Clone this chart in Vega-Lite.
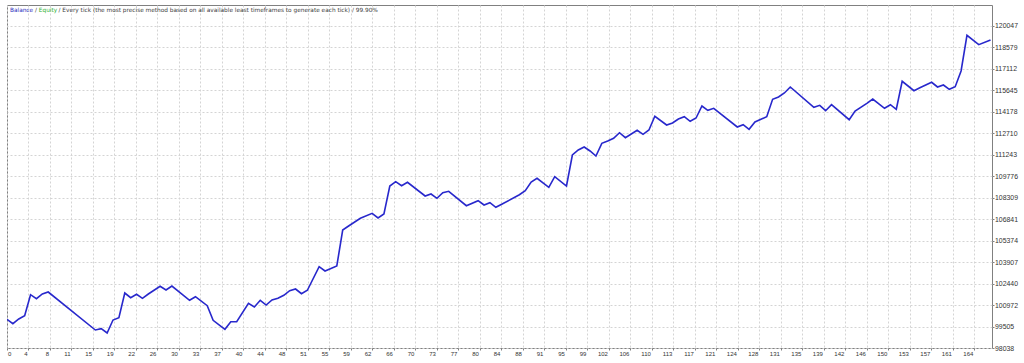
{
  "$schema": "https://vega.github.io/schema/vega-lite/v6.json",
  "width": 985,
  "height": 343,
  "autosize": "none",
  "padding": {"left": 7, "top": 5, "right": 32, "bottom": 15},
  "background": "#ffffff",
  "config": {
    "view": {"stroke": "#808080", "strokeWidth": 1},
    "font": "Liberation Sans"
  },
  "datasets": {
    "balance": [
      {"trade": 0, "balance": 100000}, {"trade": 1, "balance": 99698}, {"trade": 2, "balance": 100020},
      {"trade": 3, "balance": 100245}, {"trade": 4, "balance": 101680}, {"trade": 5, "balance": 101407},
      {"trade": 6, "balance": 101728}, {"trade": 7, "balance": 101864}, {"trade": 15, "balance": 99268},
      {"trade": 16, "balance": 99357}, {"trade": 17, "balance": 99063}, {"trade": 18, "balance": 99951},
      {"trade": 19, "balance": 100108}, {"trade": 20, "balance": 101796}, {"trade": 21, "balance": 101475},
      {"trade": 22, "balance": 101707}, {"trade": 23, "balance": 101434}, {"trade": 24, "balance": 101728},
      {"trade": 26, "balance": 102254}, {"trade": 27, "balance": 102001}, {"trade": 28, "balance": 102274},
      {"trade": 31, "balance": 101297}, {"trade": 32, "balance": 101543}, {"trade": 34, "balance": 100928},
      {"trade": 35, "balance": 99931}, {"trade": 37, "balance": 99316}, {"trade": 38, "balance": 99835},
      {"trade": 39, "balance": 99835}, {"trade": 41, "balance": 101092}, {"trade": 42, "balance": 100840},
      {"trade": 43, "balance": 101297}, {"trade": 44, "balance": 100976}, {"trade": 45, "balance": 101318},
      {"trade": 46, "balance": 101434}, {"trade": 47, "balance": 101639}, {"trade": 48, "balance": 101953},
      {"trade": 49, "balance": 102069}, {"trade": 50, "balance": 101748}, {"trade": 51, "balance": 101981},
      {"trade": 53, "balance": 103593}, {"trade": 54, "balance": 103299}, {"trade": 56, "balance": 103641},
      {"trade": 57, "balance": 106101}, {"trade": 58, "balance": 106374}, {"trade": 60, "balance": 106900},
      {"trade": 62, "balance": 107242}, {"trade": 63, "balance": 106921}, {"trade": 64, "balance": 107194},
      {"trade": 65, "balance": 109107}, {"trade": 66, "balance": 109401}, {"trade": 67, "balance": 109128},
      {"trade": 68, "balance": 109360}, {"trade": 71, "balance": 108424}, {"trade": 72, "balance": 108561},
      {"trade": 73, "balance": 108267}, {"trade": 74, "balance": 108650}, {"trade": 75, "balance": 108745},
      {"trade": 78, "balance": 107761}, {"trade": 80, "balance": 108103}, {"trade": 81, "balance": 107809},
      {"trade": 82, "balance": 107966}, {"trade": 83, "balance": 107652}, {"trade": 84, "balance": 107857},
      {"trade": 87, "balance": 108513}, {"trade": 88, "balance": 108786}, {"trade": 89, "balance": 109381},
      {"trade": 90, "balance": 109634}, {"trade": 92, "balance": 109019}, {"trade": 93, "balance": 109743},
      {"trade": 95, "balance": 109107}, {"trade": 96, "balance": 111226}, {"trade": 97, "balance": 111567},
      {"trade": 98, "balance": 111772}, {"trade": 99, "balance": 111499}, {"trade": 100, "balance": 111157},
      {"trade": 101, "balance": 112025}, {"trade": 102, "balance": 112182}, {"trade": 103, "balance": 112367},
      {"trade": 104, "balance": 112749}, {"trade": 105, "balance": 112408}, {"trade": 107, "balance": 112913},
      {"trade": 108, "balance": 112640}, {"trade": 109, "balance": 112934}, {"trade": 110, "balance": 113870},
      {"trade": 112, "balance": 113276}, {"trade": 113, "balance": 113412}, {"trade": 114, "balance": 113686},
      {"trade": 115, "balance": 113843}, {"trade": 116, "balance": 113528}, {"trade": 117, "balance": 113754},
      {"trade": 118, "balance": 114574}, {"trade": 119, "balance": 114280}, {"trade": 120, "balance": 114417},
      {"trade": 124, "balance": 113139}, {"trade": 125, "balance": 113296}, {"trade": 126, "balance": 112982},
      {"trade": 127, "balance": 113481}, {"trade": 129, "balance": 113843}, {"trade": 130, "balance": 115032},
      {"trade": 131, "balance": 115189}, {"trade": 132, "balance": 115462}, {"trade": 133, "balance": 115872},
      {"trade": 137, "balance": 114485}, {"trade": 138, "balance": 114622}, {"trade": 139, "balance": 114253},
      {"trade": 140, "balance": 114663}, {"trade": 143, "balance": 113638}, {"trade": 144, "balance": 114232},
      {"trade": 146, "balance": 114758}, {"trade": 147, "balance": 115052}, {"trade": 149, "balance": 114417},
      {"trade": 150, "balance": 114663}, {"trade": 151, "balance": 114349}, {"trade": 152, "balance": 116262},
      {"trade": 154, "balance": 115619}, {"trade": 155, "balance": 115824}, {"trade": 157, "balance": 116193},
      {"trade": 158, "balance": 115872}, {"trade": 159, "balance": 116009}, {"trade": 160, "balance": 115715},
      {"trade": 161, "balance": 115893}, {"trade": 162, "balance": 116965}, {"trade": 163, "balance": 119405},
      {"trade": 165, "balance": 118763}, {"trade": 167, "balance": 119084}
    ]
  },
  "layer": [
    {
      "data": {"name": "balance"},
      "mark": {"type": "line", "color": "#2828cc", "strokeWidth": 1.6, "strokeJoin": "miter", "clip": true},
      "encoding": {
        "x": {
          "field": "trade", "type": "quantitative",
          "scale": {"domain": [0, 167.25], "nice": false, "zero": false},
          "axis": {
            "title": null,
            "orient": "bottom",
            "tickCount": 200,
            "values": [0, 3.65, 7.3, 10.95, 14.6, 18.25, 21.9, 25.55, 29.2, 32.85, 36.5, 40.15, 43.8, 47.45, 51.1, 54.75, 58.4, 62.05, 65.7, 69.35, 73, 76.65, 80.3, 83.95, 87.6, 91.25, 94.9, 98.55, 102.2, 105.85, 109.5, 113.15, 116.8, 120.45, 124.1, 127.75, 131.4, 135.05, 138.7, 142.35, 146, 149.65, 153.3, 156.95, 160.6, 164.25],
            "labelExpr": "['0','4','8','11','15','19','22','26','30','33','37','40','44','48','51','55','59','62','66','70','73','77','80','84','88','91','95','99','102','106','110','113','117','121','124','128','131','135','139','142','146','150','153','157','161','164'][round(datum.value/3.65)]",
            "labelAlign": {"condition": {"test": "datum.value == 0", "value": "left"}, "value": "right"},
            "labelOffset": {"condition": {"test": "datum.value == 0", "value": 0.5}, "value": -1.5},
            "labelBaseline": "top",
            "labelFontSize": 6,
            "labelColor": "#333333",
            "labelPadding": 0.5,
            "labelFlush": false,
            "labelOverlap": false,
            "domain": false,
            "ticks": true,
            "tickSize": 2,
            "tickColor": "#808080",
            "grid": true,
            "gridColor": "#d4d4d4",
            "gridDash": [2, 2],
            "gridWidth": 1
          }
        },
        "y": {
          "field": "balance", "type": "quantitative",
          "scale": {"domain": [98038, 121475], "nice": false, "zero": false},
          "axis": {
            "title": null,
            "orient": "right",
            "tickCount": 200,
            "values": [98038, 99505, 100972, 102440, 103907, 105374, 106841, 108309, 109776, 111243, 112710, 114178, 115645, 117112, 118579, 120047],
            "format": "d",
            "labelAlign": "left",
            "labelBaseline": "middle",
            "labelFontSize": 6.9,
            "labelColor": "#333333",
            "labelPadding": 0.5,
            "labelFlush": false,
            "labelOverlap": false,
            "domain": false,
            "ticks": true,
            "tickSize": 2,
            "tickColor": "#808080",
            "grid": true,
            "gridColor": "#d4d4d4",
            "gridDash": [2, 2],
            "gridWidth": 1
          }
        }
      }
    },
    {
      "data": {"values": [{"text": "Balance"}]},
      "mark": {"type": "text", "align": "left", "baseline": "middle", "dx": 3, "font": "DejaVu Sans", "fontSize": 5.8, "color": "#3030c0"},
      "encoding": {"x": {"datum": 0, "type": "quantitative"}, "y": {"datum": 121113, "type": "quantitative"}, "text": {"field": "text"}}
    },
    {
      "data": {"values": [{"text": "/"}]},
      "mark": {"type": "text", "align": "left", "baseline": "middle", "dx": 28, "font": "DejaVu Sans", "fontSize": 5.8, "color": "#404040"},
      "encoding": {"x": {"datum": 0, "type": "quantitative"}, "y": {"datum": 121113, "type": "quantitative"}, "text": {"field": "text"}}
    },
    {
      "data": {"values": [{"text": "Equity"}]},
      "mark": {"type": "text", "align": "left", "baseline": "middle", "dx": 31.8, "font": "DejaVu Sans", "fontSize": 5.8, "color": "#30b030"},
      "encoding": {"x": {"datum": 0, "type": "quantitative"}, "y": {"datum": 121113, "type": "quantitative"}, "text": {"field": "text"}}
    },
    {
      "data": {"values": [{"text": "/ Every tick (the most precise method based on all available least timeframes to generate each tick) / 99.90%"}]},
      "mark": {"type": "text", "align": "left", "baseline": "middle", "dx": 51.5, "font": "DejaVu Sans", "fontSize": 5.8, "color": "#404040"},
      "encoding": {"x": {"datum": 0, "type": "quantitative"}, "y": {"datum": 121113, "type": "quantitative"}, "text": {"field": "text"}}
    }
  ]
}
